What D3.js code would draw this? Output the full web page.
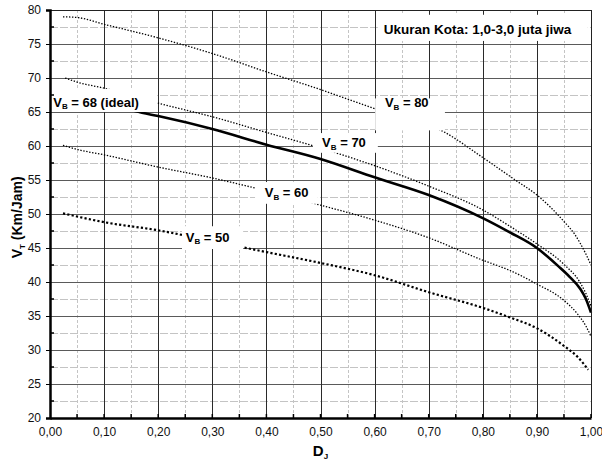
<!DOCTYPE html>
<html>
<head>
<meta charset="utf-8">
<script src="https://cdn.jsdelivr.net/npm/d3@7"></script>
<style>
  body { margin: 0; background: #fff; }
  text { font-family: "Liberation Sans", Arial, sans-serif; }
</style>
</head>
<body>
<div id="content"></div>
<script>
// values: D_J (x) and V_T (y) for each V_B curve
var dj80 = [0.024, 0.05, 0.10, 0.20, 0.30, 0.40, 0.50, 0.60, 0.73, 0.80, 0.86, 0.90, 0.95, 0.97, 0.99, 1.00];
var vt80 = [79.0, 78.9, 77.9, 75.9, 73.6, 70.9, 68.3, 65.5, 62.0, 58.3, 55.0, 52.8, 48.9, 47.0, 44.2, 42.5];

var dj70 = [0.028, 0.05, 0.10, 0.20, 0.30, 0.40, 0.50, 0.60, 0.70, 0.80, 0.85, 0.90, 0.95, 0.98, 0.99, 1.00];
var vt70 = [70.0, 69.4, 68.5, 66.3, 64.3, 62.0, 59.7, 57.1, 54.1, 50.6, 48.2, 45.6, 42.6, 39.9, 38.4, 36.5];

var dj68 = [0.02, 0.10, 0.17, 0.20, 0.30, 0.40, 0.50, 0.60, 0.70, 0.80, 0.85, 0.90, 0.94, 0.96, 0.98, 0.99, 1.00];
var vt68 = [67.6, 66.4, 64.9, 64.4, 62.5, 60.2, 58.1, 55.4, 52.8, 49.4, 47.3, 45.0, 42.3, 40.8, 39.0, 37.6, 35.5];

var dj60 = [0.024, 0.05, 0.10, 0.20, 0.30, 0.40, 0.50, 0.60, 0.70, 0.80, 0.85, 0.90, 0.95, 0.975, 0.99, 1.00];
var vt60 = [60.1, 59.5, 58.7, 56.9, 55.3, 53.4, 51.3, 49.1, 46.5, 43.2, 41.7, 39.7, 37.3, 35.3, 33.6, 32.0];

var dj50 = [0.024, 0.10, 0.20, 0.30, 0.40, 0.50, 0.60, 0.70, 0.80, 0.85, 0.90, 0.95, 0.975, 0.995];
var vt50 = [50.1, 48.8, 47.6, 46.0, 44.4, 42.8, 41.0, 38.5, 36.2, 34.8, 33.2, 30.6, 29.0, 27.1];

var xTicks = [0, 0.1, 0.2, 0.3, 0.4, 0.5, 0.6, 0.7, 0.8, 0.9, 1.0];
var yTicks = [20, 25, 30, 35, 40, 45, 50, 55, 60, 65, 70, 75, 80];
var vbNames = ['68 (ideal)', '70', '80', '60', '50'];
var cityLabel = 'Ukuran Kota: 1,0-3,0 juta jiwa';

var width = 602, height = 463;
var margin = { top: 10, right: 11, bottom: 45, left: 50 };

var svg = d3.select('#content').append('svg')
  .attr('width', width)
  .attr('height', height);

var x = d3.scaleLinear().domain([0, 1]).range([margin.left, width - margin.right]);
var y = d3.scaleLinear().domain([20, 80]).range([height - margin.bottom, margin.top]);

var grid = svg.append('g');

// minor grid
grid.selectAll('.vminor')
  .data(d3.range(0.05, 1, 0.1))
  .enter().append('line')
  .attr('x1', d => Math.round(x(d)) + 0.5).attr('x2', d => Math.round(x(d)) + 0.5)
  .attr('y1', y(80)).attr('y2', y(20))
  .attr('stroke', '#c4c4c4').attr('stroke-dasharray', '3,2');
grid.selectAll('.hminor')
  .data(d3.range(22.5, 80, 5))
  .enter().append('line')
  .attr('x1', x(0)).attr('x2', x(1))
  .attr('y1', d => Math.round(y(d)) + 0.5).attr('y2', d => Math.round(y(d)) + 0.5)
  .attr('stroke', '#c4c4c4').attr('stroke-dasharray', '8,2');

// major grid
grid.selectAll('.hmajor')
  .data(yTicks.slice(1))
  .enter().append('line')
  .attr('x1', x(0)).attr('x2', x(1))
  .attr('y1', d => Math.round(y(d)) + 0.5).attr('y2', d => Math.round(y(d)) + 0.5)
  .attr('stroke', '#5a5a5a');
grid.selectAll('.vmajor')
  .data(xTicks.slice(1))
  .enter().append('line')
  .attr('x1', d => Math.round(x(d)) + 0.5).attr('x2', d => Math.round(x(d)) + 0.5)
  .attr('y1', y(80)).attr('y2', y(20))
  .attr('stroke', '#2a2a2a');

// curves
var line = d3.line()
  .x(d => x(d[0]))
  .y(d => y(d[1]))
  .curve(d3.curveMonotoneX);

var series = [
  { dj: dj80, vt: vt80, w: 1.3, dash: '1.4,1.6' },
  { dj: dj70, vt: vt70, w: 1.3, dash: '1.4,1.6' },
  { dj: dj60, vt: vt60, w: 1.3, dash: '1.4,1.6' },
  { dj: dj50, vt: vt50, w: 2.2, dash: '2.2,2.2' },
  { dj: dj68, vt: vt68, w: 2.6, dash: null }
];

svg.append('g').selectAll('path')
  .data(series)
  .enter().append('path')
  .attr('d', s => line(d3.zip(s.dj, s.vt)))
  .attr('fill', 'none')
  .attr('stroke', '#000')
  .attr('stroke-width', s => s.w)
  .attr('stroke-dasharray', s => s.dash);

// labels with white boxes (box and text anchor in data units)
var labelSpots = [
  { name: vbNames[0], box: [0.000, 0.198, 65.0, 68.4], at: [0.006, 65.75] },
  { name: vbNames[1], box: [0.486, 0.606, 59.0, 61.9], at: [0.503, 59.85] },
  { name: vbNames[2], box: [0.601, 0.730, 62.3, 67.0], at: [0.619, 65.7] },
  { name: vbNames[3], box: [0.379, 0.495, 51.5, 54.7], at: [0.397, 52.5] },
  { name: vbNames[4], box: [0.244, 0.357, 44.85, 48.2], at: [0.251, 45.9] }
];

var lab = svg.append('g').selectAll('g')
  .data(labelSpots)
  .enter().append('g');

lab.append('rect')
  .attr('x', d => x(d.box[0]))
  .attr('y', d => y(d.box[3]))
  .attr('width', d => x(d.box[1]) - x(d.box[0]))
  .attr('height', d => y(d.box[2]) - y(d.box[3]))
  .attr('fill', '#fff');

var lt = lab.append('text')
  .attr('x', d => x(d.at[0]))
  .attr('y', d => y(d.at[1]))
  .attr('font-size', 13)
  .attr('font-weight', 'bold');
lt.append('tspan').text('V');
lt.append('tspan').attr('font-size', 8).attr('dy', 2.5).text('B');
lt.append('tspan').attr('dy', -2.5).text(d => ' = ' + d.name);

svg.append('rect')
  .attr('x', x(0.606)).attr('y', y(79.3))
  .attr('width', x(0.994) - x(0.606)).attr('height', y(75.45) - y(79.3))
  .attr('fill', '#fff');
svg.append('text')
  .attr('x', x(0.617)).attr('y', y(76.45))
  .attr('font-size', 13.5)
  .attr('font-weight', 'bold')
  .text(cityLabel);

// frame
svg.append('line')
  .attr('x1', x(0)).attr('x2', x(1)).attr('y1', y(80) + 0.5).attr('y2', y(80) + 0.5)
  .attr('stroke', '#222');
svg.append('line')
  .attr('x1', x(1) + 0.5).attr('x2', x(1) + 0.5).attr('y1', y(80)).attr('y2', y(20))
  .attr('stroke', '#222');

// axes
var yAxis = svg.append('g')
  .attr('transform', 'translate(' + x(0) + ',0)')
  .call(d3.axisLeft(y).tickValues(yTicks).tickSize(4).tickPadding(5));
var xAxis = svg.append('g')
  .attr('transform', 'translate(0,' + y(20) + ')')
  .call(d3.axisBottom(x).tickValues(xTicks).tickSize(0).tickPadding(9)
    .tickFormat(d => d3.format('.2f')(d).replace('.', ',')));

[xAxis, yAxis].forEach(function(a) {
  a.select('.domain').attr('stroke', '#000').attr('stroke-width', 2.5);
  a.selectAll('text').attr('font-size', 12).attr('fill', '#111')
    .style('font-family', '"Liberation Sans", Arial, sans-serif');
});

// minor ticks pointing inward
svg.append('g').selectAll('line')
  .data(d3.range(22.5, 80, 5))
  .enter().append('line')
  .attr('x1', x(0)).attr('x2', x(0) + 4)
  .attr('y1', d => y(d)).attr('y2', d => y(d))
  .attr('stroke', '#000').attr('stroke-width', 1.5);
svg.append('g').selectAll('line')
  .data(d3.range(0.05, 1.01, 0.05))
  .enter().append('line')
  .attr('x1', d => x(d)).attr('x2', d => x(d))
  .attr('y1', y(20)).attr('y2', y(20) - 4)
  .attr('stroke', '#000').attr('stroke-width', 1.5);

// axis titles
var yt = svg.append('text')
  .attr('transform', 'translate(22,' + y(49.5) + ') rotate(-90)')
  .attr('text-anchor', 'middle')
  .attr('font-size', 14)
  .attr('font-weight', 'bold');
yt.append('tspan').text('V');
yt.append('tspan').attr('font-size', 8).attr('dy', 3).text('T');
yt.append('tspan').attr('dy', -3).text(' (Km/Jam)');

var xt = svg.append('text')
  .attr('x', x(0.5))
  .attr('y', 456)
  .attr('text-anchor', 'middle')
  .attr('font-size', 15)
  .attr('font-weight', 'bold');
xt.append('tspan').text('D');
xt.append('tspan').attr('font-size', 8).attr('dy', 3).text('J');
</script>
</body>
</html>
